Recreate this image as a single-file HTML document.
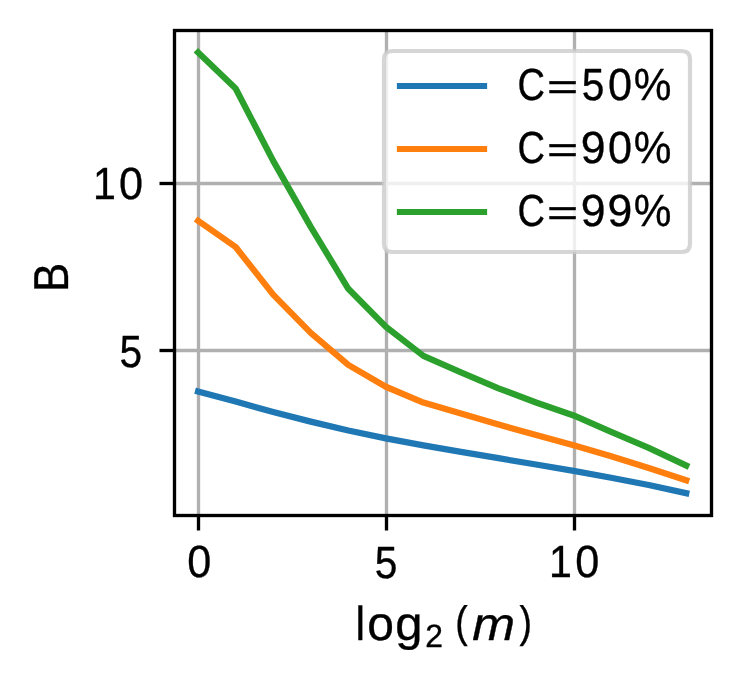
<!DOCTYPE html>
<html><head><meta charset="utf-8"><title>B vs log2(m)</title>
<style>
html,body{margin:0;padding:0;background:#fff;}
body{width:740px;height:682px;overflow:hidden;font-family:"Liberation Sans",sans-serif;}
svg{display:block;will-change:transform;}
text{text-rendering:geometricPrecision;}
</style></head><body>
<svg width="740" height="682" viewBox="0 0 740 682"><defs><clipPath id="ax"><rect x="174.5" y="30.5" width="537.0" height="485.0"/></clipPath></defs><rect x="0" y="0" width="740" height="682" fill="#ffffff"/>
<g stroke="#b0b0b0" stroke-width="3.333" clip-path="url(#ax)">
<line x1="198.5" y1="30.5" x2="198.5" y2="515.5"/>
<line x1="386.5" y1="30.5" x2="386.5" y2="515.5"/>
<line x1="574.5" y1="30.5" x2="574.5" y2="515.5"/>
<line x1="174.5" y1="183.5" x2="711.5" y2="183.5"/>
<line x1="174.5" y1="350.5" x2="711.5" y2="350.5"/>
</g>
<g stroke="#000" stroke-width="3.333">
<line x1="198.5" y1="515.5" x2="198.5" y2="530.50"/>
<line x1="386.5" y1="515.5" x2="386.5" y2="530.50"/>
<line x1="574.5" y1="515.5" x2="574.5" y2="530.50"/>
<line x1="174.5" y1="183.5" x2="159.50" y2="183.5"/>
<line x1="174.5" y1="350.5" x2="159.50" y2="350.5"/>
</g>
<g fill="none" stroke-width="6.25" stroke-linecap="square" stroke-linejoin="round" clip-path="url(#ax)">
<polyline stroke="#1f77b4" points="198.10,391.45 235.65,401.60 273.20,412.00 310.75,421.65 348.30,430.55 385.85,438.35 423.40,445.35 460.95,451.90 498.50,458.20 536.05,464.50 573.60,470.90 611.15,477.75 648.70,485.00 686.25,493.20"/>
<polyline stroke="#ff7f0e" points="198.10,220.80 235.65,247.05 273.20,294.60 310.75,332.85 348.30,364.90 385.85,386.75 423.40,402.55 460.95,413.50 498.50,424.55 536.05,434.90 573.60,445.30 611.15,456.25 648.70,468.10 686.25,480.30"/>
<polyline stroke="#2ca02c" points="198.10,52.40 235.65,88.50 273.20,160.90 310.75,226.90 348.30,288.80 385.85,326.70 423.40,355.90 460.95,372.30 498.50,388.30 536.05,402.50 573.60,415.43 611.15,431.88 648.70,447.83 686.25,465.55"/>
</g>
<rect x="174.5" y="30.5" width="537.0" height="485.0" fill="none" stroke="#000" stroke-width="3.333" stroke-linejoin="miter"/>
<path d="M392.333,51 L681.667,51 Q690,51 690,59.333 L690,243.667 Q690,252 681.667,252 L392.333,252 Q384,252 384,243.667 L384,59.333 Q384,51 392.333,51 Z" fill="#ffffff" fill-opacity="0.8" stroke="#cccccc" stroke-opacity="0.8" stroke-width="4.167"/>
<rect x="396.875" y="83" width="90.25" height="6" fill="#1f77b4"/>
<rect x="396.875" y="146" width="90.25" height="6" fill="#ff7f0e"/>
<rect x="396.875" y="209" width="90.25" height="6" fill="#2ca02c"/>
<g fill="#000" stroke="#000" stroke-width="0.35" font-family="&quot;Liberation Sans&quot;, sans-serif">
<text y="100" font-size="45.00"><tspan x="517.48" y="100" textLength="27.53" lengthAdjust="spacingAndGlyphs">C</tspan><tspan x="547.15" y="99" font-size="35.94" stroke-width="0.6" textLength="30.63" lengthAdjust="spacingAndGlyphs">=</tspan><tspan x="581.72" y="100" textLength="22.64" lengthAdjust="spacingAndGlyphs">5</tspan><tspan x="607.95" y="100" textLength="24.02" lengthAdjust="spacingAndGlyphs">0</tspan><tspan x="633.84" y="100" textLength="37.66" lengthAdjust="spacingAndGlyphs">%</tspan></text>
<text y="163" font-size="45.00"><tspan x="517.48" y="163" textLength="27.53" lengthAdjust="spacingAndGlyphs">C</tspan><tspan x="547.15" y="162" font-size="35.94" stroke-width="0.6" textLength="30.63" lengthAdjust="spacingAndGlyphs">=</tspan><tspan x="580.66" y="163" textLength="24.81" lengthAdjust="spacingAndGlyphs">9</tspan><tspan x="607.95" y="163" textLength="24.02" lengthAdjust="spacingAndGlyphs">0</tspan><tspan x="633.84" y="163" textLength="37.66" lengthAdjust="spacingAndGlyphs">%</tspan></text>
<text y="226" font-size="45.00"><tspan x="517.48" y="226" textLength="27.53" lengthAdjust="spacingAndGlyphs">C</tspan><tspan x="547.15" y="225" font-size="35.94" stroke-width="0.6" textLength="30.63" lengthAdjust="spacingAndGlyphs">=</tspan><tspan x="580.66" y="226" textLength="24.81" lengthAdjust="spacingAndGlyphs">9</tspan><tspan x="607.42" y="226" textLength="24.81" lengthAdjust="spacingAndGlyphs">9</tspan><tspan x="633.84" y="226" textLength="37.66" lengthAdjust="spacingAndGlyphs">%</tspan></text>
<text y="199" font-size="45.00"><tspan x="92.92" y="199" textLength="22.88" lengthAdjust="spacingAndGlyphs">1</tspan><tspan x="119.04" y="199" textLength="24.02" lengthAdjust="spacingAndGlyphs">0</tspan></text>
<text y="367" font-size="45.00"><tspan x="119.61" y="367" textLength="22.64" lengthAdjust="spacingAndGlyphs">5</tspan></text>
<text y="577" font-size="45.00"><tspan x="187.33" y="577" textLength="24.02" lengthAdjust="spacingAndGlyphs">0</tspan></text>
<text y="578" font-size="45.00"><tspan x="374.71" y="578" textLength="22.64" lengthAdjust="spacingAndGlyphs">5</tspan></text>
<text y="577" font-size="45.00"><tspan x="549.12" y="577" textLength="22.88" lengthAdjust="spacingAndGlyphs">1</tspan><tspan x="575.24" y="577" textLength="24.02" lengthAdjust="spacingAndGlyphs">0</tspan></text>
<text transform="translate(67.9 291.99) rotate(-90) scale(0.8937 1)" font-size="48.98">B</text>
<text y="640" font-size="47.8"><tspan x="355.46" textLength="9.52" lengthAdjust="spacingAndGlyphs">l</tspan><tspan x="367.28" textLength="26.69" lengthAdjust="spacingAndGlyphs">o</tspan><tspan x="395.31" textLength="27.27" lengthAdjust="spacingAndGlyphs">g</tspan><tspan x="425.15" textLength="17.70" lengthAdjust="spacingAndGlyphs" y="647" font-size="32.4">2</tspan><tspan x="455.15" textLength="12.46" lengthAdjust="spacingAndGlyphs" y="637" font-size="44.0">(</tspan><tspan x="472.19" textLength="42.79" lengthAdjust="spacingAndGlyphs" y="640" font-size="46.4" font-style="italic">m</tspan><tspan x="519.57" textLength="12.46" lengthAdjust="spacingAndGlyphs" y="637" font-size="44.0">)</tspan></text>
</g></svg>
</body></html>
